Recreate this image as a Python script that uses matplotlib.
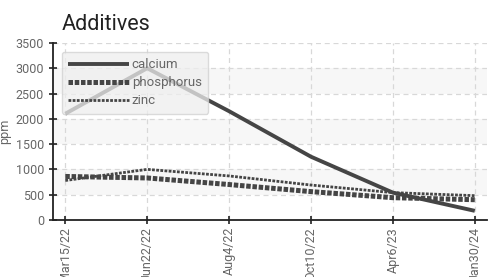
import matplotlib
matplotlib.use("Agg")
import matplotlib.pyplot as plt

dates = ["Mar15/22", "Jun22/22", "Aug4/22", "Oct10/22", "Apr6/23", "Jan30/24"]
calcium = [2100, 3000, 2150, 1250, 540, 180]
phosphorus = [860, 830, 700, 560, 440, 400]
zinc = [780, 1000, 870, 690, 540, 480]
yticks = [0, 500, 1000, 1500, 2000, 2500, 3000, 3500]

plt.rcParams['font.family'] = ['Roboto', 'DejaVu Sans']

fig = plt.figure(figsize=(4.91, 2.77), dpi=100)
ax = fig.add_axes([0.108, 0.206, 0.884, 0.639])

x = list(range(len(dates)))
ax.set_xlim(-0.15, len(dates) - 1 + 0.15)
ax.set_ylim(0, 3500)

# alternating bands
for lo in [500, 1500, 2500]:
    ax.axhspan(lo, lo + 500, color="#f7f7f7", zorder=0, lw=0)

line_color = "#454545"
ax.plot(x, calcium, color=line_color, lw=2.8, solid_capstyle="butt", label="calcium", zorder=3)
ax.plot(x, phosphorus, color=line_color, lw=3.6, dashes=(0.9, 0.35), label="phosphorus", zorder=3)
ax.plot(x, zinc, color=line_color, lw=2.0, dashes=(1.0, 0.5), label="zinc", zorder=3)

ax.set_xticks(x)
ax.set_xticklabels(dates, rotation=90, va="top", ha="center")
ax.set_yticks(yticks)
ax.grid(True, color="#d8d8d8", linestyle=(0, (4, 3)), lw=0.9)
ax.set_axisbelow(True)

for s in ["top", "right"]:
    ax.spines[s].set_visible(False)
ax.spines["left"].set_color("#222222")
ax.spines["bottom"].set_color("#222222")
ax.spines["left"].set_linewidth(1.3)
ax.spines["bottom"].set_linewidth(1.3)
ax.tick_params(axis="both", colors="#222222", labelcolor="#666666", labelsize=9,
               direction="inout", length=6, width=1.2)
ax.tick_params(axis="x", pad=2)

ax.set_ylabel("ppm", color="#666666", fontsize=9, labelpad=3)
ax.set_title("Additives", loc="left", fontsize=15.5, color="#222222", x=0.02, pad=9)

leg = ax.legend(loc="upper left", bbox_to_anchor=(0.02, 0.95), borderaxespad=0,
                fontsize=9.5, handlelength=4.6, handletextpad=0.2, labelspacing=0.38,
                frameon=True, fancybox=True, framealpha=0.75, borderpad=0.5)
leg.get_frame().set_facecolor("#eeeeee")
leg.get_frame().set_edgecolor("#d0d0d0")
for t in leg.get_texts():
    t.set_color("#666666")
leg.set_zorder(5)

fig.savefig("out.png", dpi=100)
